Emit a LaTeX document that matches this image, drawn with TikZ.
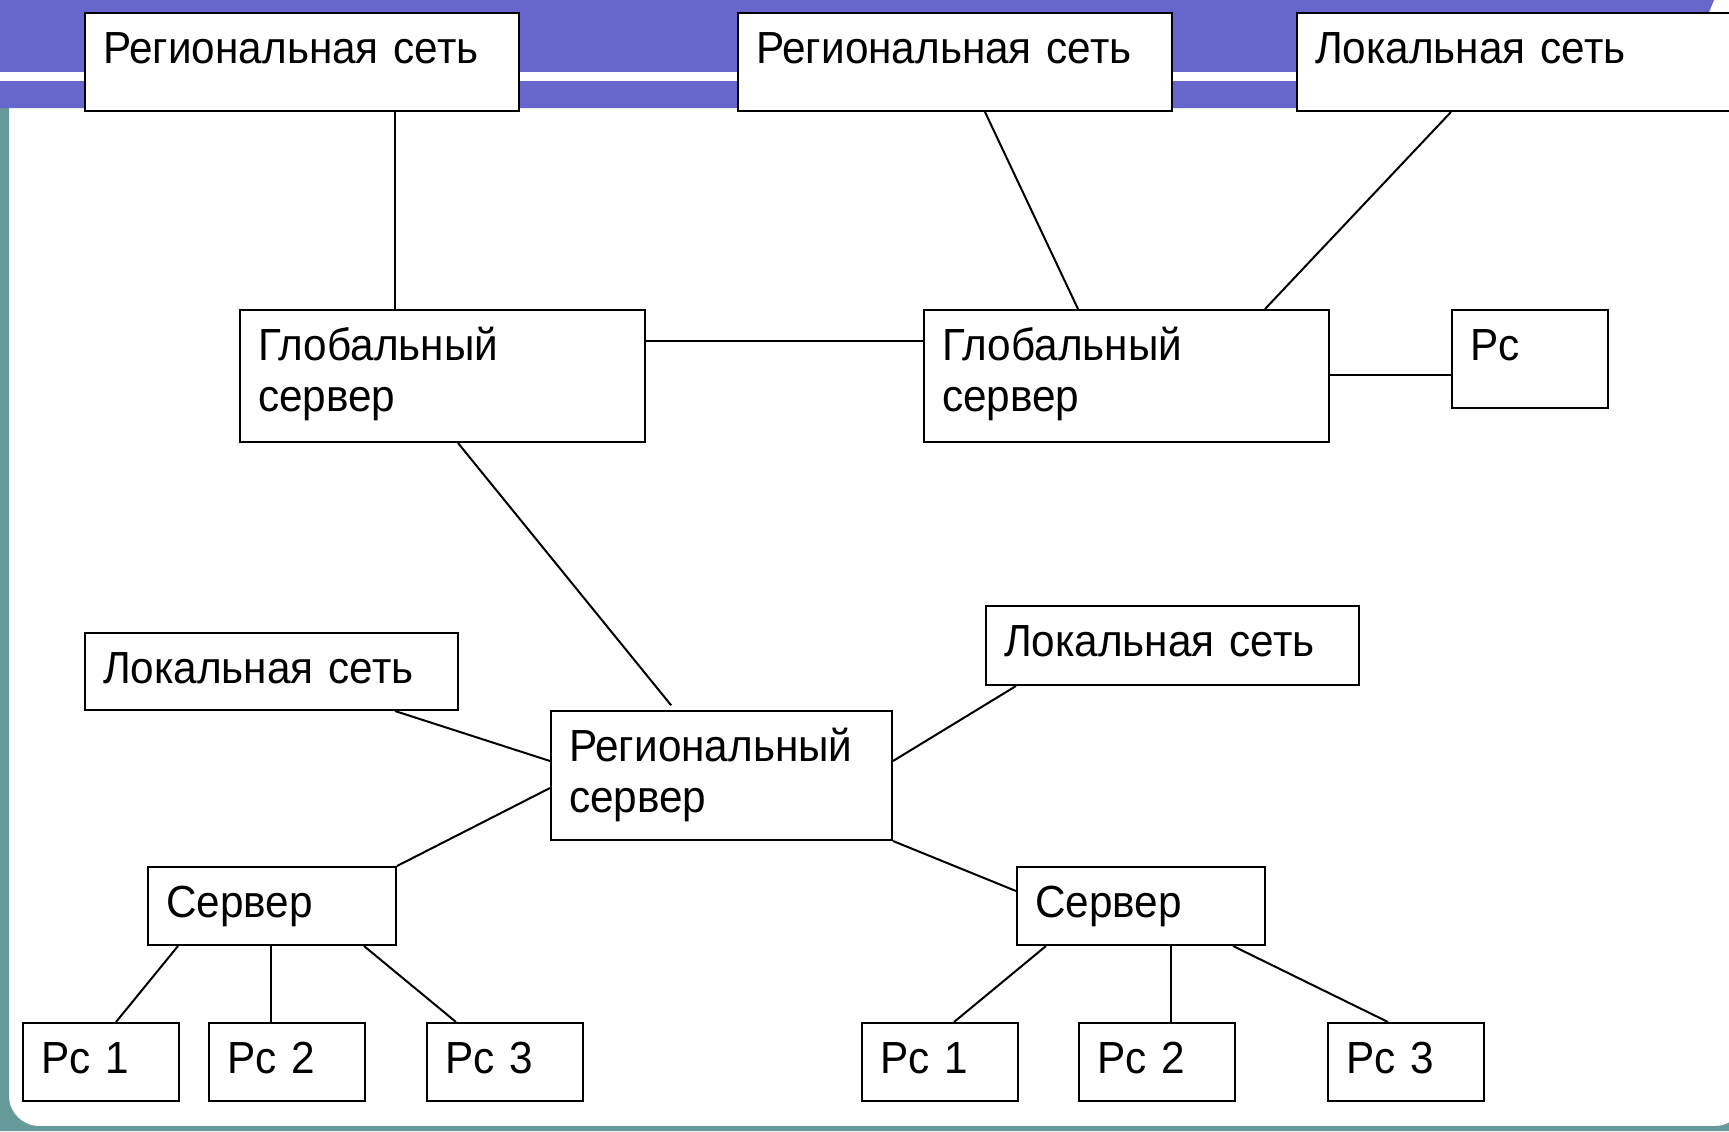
\documentclass[tikz,border=0pt]{standalone}
\usepackage{fontspec}
\setmainfont{Liberation Sans}[FakeStretch=0.94]
\usetikzlibrary{calc}

\definecolor{bandblue}{RGB}{102,102,204}
\definecolor{frameteal}{RGB}{102,153,153}

\begin{document}
\begin{tikzpicture}[
    x=0.5pt, y=-0.5pt,
    line width=1pt,
    every node/.style={font=\fontsize{22.5pt}{25.5pt}\selectfont},
    box/.style 2 args={
      draw,
      fill=white,
      anchor=north west,
      inner xsep=9pt,
      inner ysep=0pt,
      align=left,
      text height=25pt,
      text width=#1,
      text depth=#2
    }
  ]
  \useasboundingbox (0,0) rectangle (1729,1131);

  % slide frame
  \fill[frameteal, even odd rule] (0,60) rectangle (1729,1131)
    (9,60) [rounded corners=15pt] rectangle (1745,1126);
  \fill[bandblue] (0,0) -- (1714,0) -- (1670,108) -- (0,108) -- cycle;
  \fill[white] (0,72) rectangle (1729,81);

  % top row
  \node[box={199pt}{24pt}] (reg1) at (84,12) {Региональная сеть};
  \node[box={199pt}{24pt}] (reg2) at (737,12) {Региональная сеть};
  \node[box={199pt}{24pt}] (loc1) at (1296,12) {Локальная сеть};

  % global servers
  \node[box={184.5pt}{41pt}] (glob1) at (239,309) {Глобальный\\сервер};
  \node[box={184.5pt}{41pt}] (glob2) at (923,309) {Глобальный\\сервер};
  \node[box={60pt}{24pt}] (pc) at (1451,309) {Pc};

  % regional level
  \node[box={168.5pt}{13.5pt}] (loc2) at (84,632) {Локальная сеть};
  \node[box={168.5pt}{14.5pt}] (loc3) at (985,605) {Локальная сеть};
  \node[box={152.5pt}{39.5pt}] (reg) at (550,710) {Региональный\\сервер};

  % servers and workstations
  \node[box={106pt}{14pt}] (srv1) at (147,866) {Сервер};
  \node[box={106pt}{14pt}] (srv2) at (1016,866) {Сервер};
  \node[box={60pt}{14pt}] (pc1) at (22,1022) {Pc 1};
  \node[box={60pt}{14pt}] (pc2) at (208,1022) {Pc 2};
  \node[box={60pt}{14pt}] (pc3) at (426,1022) {Pc 3};
  \node[box={60pt}{14pt}] (pc4) at (861,1022) {Pc 1};
  \node[box={60pt}{14pt}] (pc5) at (1078,1022) {Pc 2};
  \node[box={60pt}{14pt}] (pc6) at (1327,1022) {Pc 3};

  \draw ($(reg1.south west)+(311,0)$) -- ($(glob1.north west)+(156,0)$);
  \draw ($(reg2.south west)+(248,0)$) -- ($(glob2.north west)+(155,0)$);
  \draw ($(loc1.south west)+(155,0)$) -- ($(glob2.north west)+(342,0)$);
  \draw ($(glob1.north east)+(0,32)$) -- ($(glob2.north west)+(0,32)$);
  \draw ($(glob2.north east)+(0,66)$) -- ($(pc.north west)+(0,66)$);
  \draw[shorten >=3pt] ($(glob1.south west)+(219,0)$) -- ($(reg.north west)+(125,0)$);

  \draw ($(loc2.south west)+(311,0)$) -- ($(reg.north west)+(0,51)$);
  \draw ($(loc3.south west)+(31,0)$) -- ($(reg.north east)+(0,51)$);
  \draw ($(reg.north west)+(0,78)$) -- (srv1.north east);
  \draw (reg.south east) -- ($(srv2.north west)+(0,25)$);

  \draw ($(srv1.south west)+(31,0)$) -- ($(pc1.north west)+(94,0)$);
  \draw ($(srv1.south west)+(124,0)$) -- ($(pc2.north west)+(63,0)$);
  \draw ($(srv1.south west)+(217,0)$) -- ($(pc3.north west)+(30,0)$);
  \draw ($(srv2.south west)+(30,0)$) -- ($(pc4.north west)+(93,0)$);
  \draw ($(srv2.south west)+(155,0)$) -- ($(pc5.north west)+(93,0)$);
  \draw ($(srv2.south west)+(217,0)$) -- ($(pc6.north west)+(61,0)$);
\end{tikzpicture}
\end{document}
